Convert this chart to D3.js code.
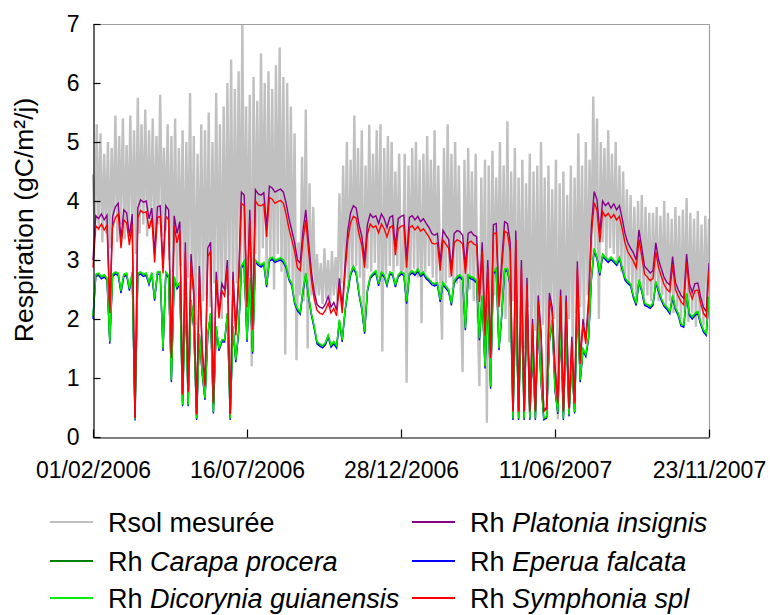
<!DOCTYPE html>
<html>
<head>
<meta charset="utf-8">
<script src="https://cdn.jsdelivr.net/npm/d3@7"></script>
<style>
  body { margin: 0; background: #fff; }
  svg { display: block; font-family: "Liberation Sans", Arial, sans-serif; }
</style>
</head>
<body>
<svg id="chart" width="770" height="615"></svg>
<script>
// Axis ticks
const xTickLabels = ["01/02/2006", "16/07/2006", "28/12/2006", "11/06/2007", "23/11/2007"];
const yTicks = [0, 1, 2, 3, 4, 5, 6, 7];

// Sampling of the series, in days from 01/02/2006
const rsolStepDays = 2;
const rhStepDays = 3;

// Measured soil respiration (gC/m2/j)
const rsolMesuree = [
  4.45,3.40,5.30,3.50,5.15,3.30,4.80,3.45,5.00,3.20,4.90,3.55,5.45,3.30,5.10,3.60,5.40,3.35,4.95,3.50,
  5.45,3.40,5.20,3.10,5.75,3.45,5.30,3.60,5.55,3.40,5.20,3.55,5.40,3.35,5.10,3.60,5.80,3.40,4.90,3.50,
  5.30,3.00,5.10,2.80,5.40,2.60,4.90,2.90,5.20,2.40,5.00,2.70,5.83,2.50,5.10,1.90,4.80,2.60,5.30,2.30,
  5.20,2.40,5.50,2.20,5.00,2.60,5.83,2.30,5.30,2.00,5.60,2.50,6.00,2.40,6.40,2.20,5.90,2.60,6.20,2.70,
  7.00,2.60,5.60,3.00,5.80,1.20,6.10,3.10,5.70,2.90,6.50,3.20,6.00,2.70,6.20,3.00,5.90,2.50,6.30,3.10,
  6.60,2.80,6.10,1.40,6.00,2.70,5.60,2.50,5.15,1.30,3.30,2.40,4.75,2.30,5.55,1.50,4.30,2.40,3.90,2.30,
  3.10,2.40,2.95,2.25,3.20,2.35,3.00,2.20,3.15,2.40,3.05,2.30,4.13,2.60,4.60,2.70,5.00,2.50,4.70,2.80,
  5.45,2.90,4.90,2.70,5.20,1.93,4.60,2.85,5.29,2.80,4.80,2.95,5.20,2.70,5.30,1.45,4.90,2.75,5.10,2.90,
  5.00,2.80,4.50,2.90,4.80,2.75,2.85,4.80,0.92,4.60,2.75,4.90,2.85,5.00,2.70,4.70,1.93,4.80,2.80,5.10,
  2.90,4.70,2.70,5.20,2.60,4.60,2.70,1.65,4.90,2.60,5.30,2.70,4.80,2.55,5.00,2.60,4.60,2.50,1.10,4.70,
  2.40,4.90,2.50,4.50,2.30,4.80,2.20,0.86,4.40,2.10,4.70,0.24,4.60,1.80,4.85,2.40,4.40,2.60,5.00,2.20,
  4.60,2.00,5.35,1.60,4.50,2.30,4.90,1.20,4.40,2.00,4.70,1.50,4.30,2.20,4.80,1.00,4.50,1.80,4.60,1.40,
  5.00,1.90,4.40,0.80,4.60,1.70,4.20,2.00,4.70,0.30,4.30,1.60,4.50,1.20,4.10,2.00,4.60,1.40,4.40,2.10,
  5.15,2.20,4.60,1.90,5.00,2.40,4.70,3.00,5.77,3.20,5.40,2.00,5.00,3.30,4.90,3.00,5.20,3.20,4.80,3.10,
  5.00,2.90,4.60,2.80,4.50,2.70,4.20,2.60,4.10,2.50,3.90,2.40,4.00,2.50,4.10,2.30,3.90,2.40,3.80,2.30,
  3.80,2.50,3.90,2.30,3.75,2.40,4.00,2.20,3.80,2.30,3.70,2.10,3.90,2.20,3.75,2.00,3.85,2.10,4.05,1.95,
  3.80,2.10,3.70,1.87,3.83,2.00,3.60,1.90,3.75,2.20,3.70
];

// Modelled heterotrophic respiration, one value every three days
const rhCarapa = [
  2.04,2.75,2.77,2.71,2.74,2.69,1.61,2.75,2.79,2.77,
  2.47,2.75,2.77,2.51,2.79,0.30,2.77,2.79,2.75,2.77,
  2.61,2.78,2.34,2.79,2.79,1.49,2.79,2.73,0.96,2.71,
  2.54,2.61,0.54,2.44,0.54,2.32,1.87,0.31,1.74,1.09,
  0.65,1.75,2.09,0.42,1.87,1.49,1.64,1.64,2.09,0.31,
  1.87,1.30,1.79,2.89,2.97,1.64,2.69,1.44,2.99,2.94,
  2.91,2.95,2.57,3.01,3.04,2.99,3.01,3.03,2.99,2.89,
  2.69,2.59,2.29,2.17,2.11,2.49,2.77,2.39,2.09,1.87,
  1.61,1.57,1.54,1.59,1.72,1.55,1.61,1.54,1.98,1.64,
  2.14,2.49,2.77,2.89,2.79,2.44,2.19,1.78,2.49,2.71,
  2.77,2.81,2.59,2.79,2.74,2.59,2.79,2.77,2.57,2.74,
  2.79,2.77,2.29,2.77,2.81,2.77,2.84,2.75,2.79,2.71,
  2.67,2.61,2.59,2.61,2.32,2.61,2.55,2.49,2.26,2.64,
  2.71,2.74,2.69,1.84,2.74,2.71,2.69,2.64,1.67,2.39,
  1.19,2.34,0.85,2.79,2.85,1.50,2.09,2.84,2.85,2.59,
  0.31,2.43,0.31,2.29,0.31,2.37,0.31,1.49,0.31,1.99,
  0.96,0.31,0.34,1.64,1.98,0.82,0.41,1.89,0.31,1.87,
  0.37,1.30,0.42,2.29,0.96,1.49,1.39,1.69,2.69,3.19,
  3.04,2.77,3.09,3.04,2.99,3.04,2.99,2.94,3.04,2.87,
  2.69,2.63,2.59,2.39,2.26,2.66,2.49,2.26,2.24,2.21,
  2.26,2.63,2.49,2.34,2.24,2.19,2.12,2.39,2.19,2.09,
  1.91,1.89,2.43,2.09,2.03,2.09,2.12,1.94,1.81,1.75,
  2.37
];

const rhDicorynia = [
  2.05,2.76,2.78,2.72,2.75,2.70,1.62,2.76,2.80,2.78,
  2.48,2.76,2.78,2.52,2.80,0.30,2.78,2.80,2.76,2.78,
  2.62,2.79,2.35,2.80,2.80,1.50,2.80,2.74,0.97,2.72,
  2.55,2.62,0.55,2.45,0.55,2.33,1.88,0.32,1.75,1.10,
  0.66,1.76,2.10,0.43,1.88,1.50,1.65,1.65,2.10,0.32,
  1.88,1.31,1.80,2.90,2.98,1.65,2.70,1.45,3.00,2.95,
  2.92,2.96,2.58,3.02,3.05,3.00,3.02,3.04,3.00,2.90,
  2.70,2.60,2.30,2.18,2.12,2.50,2.78,2.40,2.10,1.88,
  1.62,1.58,1.55,1.60,1.73,1.56,1.62,1.55,1.99,1.65,
  2.15,2.50,2.78,2.90,2.80,2.45,2.20,1.79,2.50,2.72,
  2.78,2.82,2.60,2.80,2.75,2.60,2.80,2.78,2.58,2.75,
  2.80,2.78,2.30,2.78,2.82,2.78,2.85,2.76,2.80,2.72,
  2.68,2.62,2.60,2.62,2.33,2.62,2.56,2.50,2.27,2.65,
  2.72,2.75,2.70,1.85,2.75,2.72,2.70,2.65,1.68,2.40,
  1.20,2.35,0.86,2.80,2.86,1.51,2.10,2.85,2.86,2.60,
  0.32,2.44,0.32,2.30,0.32,2.38,0.32,1.50,0.32,2.00,
  0.97,0.32,0.35,1.65,1.99,0.83,0.42,1.90,0.32,1.88,
  0.38,1.31,0.43,2.30,0.97,1.50,1.40,1.70,2.70,3.20,
  3.05,2.78,3.10,3.05,3.00,3.05,3.00,2.95,3.05,2.88,
  2.70,2.64,2.60,2.40,2.27,2.67,2.50,2.27,2.25,2.22,
  2.27,2.64,2.50,2.35,2.25,2.20,2.13,2.40,2.20,2.10,
  1.92,1.90,2.44,2.10,2.04,2.10,2.13,1.95,1.82,1.76,
  2.38
];

const rhPlatonia = [
  3.00,3.75,3.70,3.78,3.68,3.76,2.20,3.74,3.90,3.96,
  3.35,3.85,3.80,3.40,3.78,0.33,3.88,4.02,3.98,4.00,
  3.70,3.88,3.10,3.90,3.92,2.90,3.92,3.85,1.40,3.75,
  3.45,3.65,0.75,3.30,0.80,3.10,2.50,0.40,2.90,1.50,
  0.90,3.20,3.30,0.60,2.80,2.10,2.60,2.50,3.00,0.40,
  2.80,1.80,2.70,4.15,4.10,2.30,3.85,1.90,4.19,4.12,
  4.10,4.14,3.55,4.25,4.22,4.15,4.18,4.20,4.15,3.95,
  3.70,3.50,3.30,3.00,2.95,3.50,3.85,3.30,2.80,2.45,
  2.25,2.20,2.18,2.25,2.38,2.20,2.28,2.15,2.69,2.20,
  2.90,3.50,3.80,3.92,3.88,3.60,3.40,3.00,3.60,3.78,
  3.72,3.75,3.62,3.78,3.70,3.55,3.72,3.75,3.22,3.70,
  3.74,3.76,3.00,3.72,3.75,3.68,3.74,3.65,3.70,3.62,
  3.55,3.45,3.42,3.45,2.95,3.50,3.42,3.35,2.85,3.45,
  3.50,3.48,3.42,2.90,3.45,3.48,3.42,3.40,2.40,3.30,
  1.80,3.00,1.40,3.60,3.62,2.30,3.00,3.65,3.62,3.30,
  0.45,3.50,0.45,3.00,0.45,2.70,0.45,2.00,0.45,2.40,
  1.80,0.45,0.50,2.44,2.20,1.20,0.60,2.50,0.45,2.40,
  0.50,1.70,0.60,2.98,1.30,2.00,1.65,2.35,3.57,4.16,
  4.02,3.46,4.00,3.92,3.97,3.88,3.95,3.85,3.92,3.70,
  3.45,3.29,3.20,3.12,3.00,3.51,3.20,2.89,2.84,2.78,
  2.82,3.29,3.00,2.85,2.70,2.62,2.58,3.06,2.62,2.50,
  2.40,2.35,3.10,2.60,2.45,2.60,2.61,2.38,2.20,2.13,
  2.95
];

const rhEperua = [
  2.00,2.72,2.74,2.68,2.71,2.66,1.58,2.72,2.76,2.74,
  2.44,2.72,2.74,2.48,2.76,0.28,2.74,2.76,2.72,2.74,
  2.58,2.75,2.31,2.76,2.76,1.46,2.76,2.70,0.93,2.68,
  2.51,2.58,0.52,2.41,0.52,2.29,1.84,0.29,1.71,1.06,
  0.63,1.72,2.06,0.40,1.84,1.46,1.61,1.61,2.06,0.29,
  1.84,1.27,1.76,2.86,2.94,1.61,2.66,1.41,2.96,2.91,
  2.88,2.92,2.54,2.98,3.01,2.96,2.98,3.00,2.96,2.86,
  2.66,2.56,2.26,2.14,2.08,2.46,2.74,2.36,2.06,1.84,
  1.58,1.54,1.51,1.56,1.69,1.52,1.58,1.51,1.95,1.61,
  2.11,2.46,2.74,2.86,2.76,2.41,2.16,1.75,2.46,2.68,
  2.74,2.78,2.56,2.76,2.71,2.56,2.76,2.74,2.54,2.71,
  2.76,2.74,2.26,2.74,2.78,2.74,2.81,2.72,2.76,2.68,
  2.64,2.58,2.56,2.58,2.29,2.58,2.52,2.46,2.23,2.61,
  2.68,2.71,2.66,1.81,2.71,2.68,2.66,2.61,1.64,2.36,
  1.16,2.31,0.82,2.76,2.82,1.47,2.06,2.81,2.82,2.56,
  0.29,2.40,0.29,2.26,0.29,2.34,0.29,1.46,0.29,1.96,
  0.93,0.29,0.32,1.61,1.95,0.79,0.39,1.86,0.29,1.84,
  0.35,1.27,0.40,2.26,0.93,1.46,1.36,1.66,2.66,3.16,
  3.01,2.74,3.06,3.01,2.96,3.01,2.96,2.91,3.01,2.84,
  2.66,2.60,2.56,2.36,2.23,2.63,2.46,2.23,2.21,2.18,
  2.23,2.60,2.46,2.31,2.21,2.16,2.09,2.36,2.16,2.06,
  1.88,1.86,2.40,2.06,2.00,2.06,2.09,1.91,1.78,1.72,
  2.34
];

const rhSymphonia = [
  2.87,3.58,3.53,3.61,3.51,3.59,2.10,3.57,3.72,3.78,
  3.20,3.68,3.63,3.25,3.61,0.32,3.71,3.84,3.80,3.82,
  3.53,3.71,2.96,3.72,3.74,2.77,3.74,3.68,1.34,3.58,
  3.29,3.49,0.72,3.15,0.76,2.96,2.39,0.38,2.77,1.43,
  0.86,3.06,3.15,0.57,2.67,2.01,2.48,2.39,2.87,0.38,
  2.67,1.72,2.58,3.96,3.92,2.20,3.68,1.81,4.00,3.93,
  3.92,3.95,3.39,4.06,4.03,3.96,3.99,4.01,3.96,3.77,
  3.53,3.34,3.15,2.87,2.82,3.34,3.68,3.15,2.67,2.34,
  2.15,2.10,2.08,2.15,2.27,2.10,2.18,2.05,2.57,2.10,
  2.77,3.34,3.63,3.74,3.71,3.44,3.25,2.87,3.44,3.61,
  3.55,3.58,3.46,3.61,3.53,3.39,3.55,3.58,3.08,3.53,
  3.57,3.59,2.87,3.55,3.58,3.51,3.57,3.49,3.53,3.46,
  3.39,3.29,3.27,3.29,2.82,3.34,3.27,3.20,2.72,3.29,
  3.34,3.32,3.27,2.77,3.29,3.32,3.27,3.25,2.29,3.15,
  1.72,2.87,1.34,3.44,3.46,2.20,2.87,3.49,3.46,3.15,
  0.43,3.34,0.43,2.87,0.43,2.58,0.43,1.91,0.43,2.29,
  1.72,0.43,0.48,2.33,2.10,1.15,0.57,2.39,0.43,2.29,
  0.48,1.62,0.57,2.85,1.24,1.91,1.58,2.24,3.41,3.97,
  3.84,3.30,3.82,3.74,3.79,3.71,3.77,3.68,3.74,3.53,
  3.29,3.14,3.06,2.98,2.87,3.35,3.06,2.76,2.71,2.65,
  2.69,3.14,2.87,2.72,2.58,2.50,2.46,2.92,2.50,2.39,
  2.29,2.24,2.96,2.48,2.34,2.48,2.49,2.27,2.10,2.03,
  2.82
];

// Chart geometry
const W = 770, H = 615;
const plot = { left: 93, right: 709, top: 24, bottom: 437 };

const parseDay = d3.timeParse("%d/%m/%Y");
const formatDay = d3.timeFormat("%d/%m/%Y");
const tickDates = xTickLabels.map(parseDay);
const firstDay = tickDates[0];

const x = d3.scaleTime()
  .domain([firstDay, tickDates[tickDates.length - 1]])
  .range([plot.left, plot.right]);
const y = d3.scaleLinear().domain([0, 7]).range([plot.bottom, plot.top]);

const series = [
  { key: "rsol", prefix: "Rsol mesurée", species: "", values: rsolMesuree, step: rsolStepDays, color: "#c0c0c0", width: 2.4 },
  { key: "carapa", prefix: "Rh ", species: "Carapa procera", values: rhCarapa, step: rhStepDays, color: "#008000", width: 1.4 },
  { key: "dicorynia", prefix: "Rh ", species: "Dicorynia guianensis", values: rhDicorynia, step: rhStepDays, color: "#00f000", width: 1.4 },
  { key: "platonia", prefix: "Rh ", species: "Platonia insignis", values: rhPlatonia, step: rhStepDays, color: "#880088", width: 1.4 },
  { key: "eperua", prefix: "Rh ", species: "Eperua falcata", values: rhEperua, step: rhStepDays, color: "#0000ff", width: 1.4 },
  { key: "symphonia", prefix: "Rh ", species: "Symphonia spl", values: rhSymphonia, step: rhStepDays, color: "#ff0000", width: 1.4 }
];
const byKey = Object.fromEntries(series.map(s => [s.key, s]));

const svg = d3.select("#chart");
svg.append("rect").attr("width", W).attr("height", H).attr("fill", "#fff");

const line = d3.line()
  .x(d => x(d.date))
  .y(d => y(d.value));

function points(s) {
  return s.values.map((v, i) => ({ date: d3.timeDay.offset(firstDay, i * s.step), value: v }));
}

// Lines, back to front
const drawOrder = ["rsol", "eperua", "carapa", "dicorynia", "platonia", "symphonia"];
const gLines = svg.append("g");
drawOrder.forEach(k => {
  const s = byKey[k];
  gLines.append("path")
    .datum(points(s))
    .attr("fill", "none")
    .attr("stroke", s.color)
    .attr("stroke-width", s.width)
    .attr("stroke-linejoin", k === "rsol" ? "bevel" : "miter")
    .attr("d", line);
});

// Frame: top and right edges
svg.append("path")
  .attr("d", `M${plot.left},${plot.top + 0.5}H${plot.right + 0.5}V${plot.bottom}`)
  .attr("fill", "none")
  .attr("stroke", "#a0a0a0")
  .attr("stroke-width", 1.2);

// Y axis
const yAxis = d3.axisLeft(y)
  .tickValues(yTicks)
  .tickFormat(d3.format("d"))
  .tickSizeInner(-7)
  .tickSizeOuter(0)
  .tickPadding(14);
const gy = svg.append("g")
  .attr("transform", `translate(${plot.left + 0.5},0)`)
  .call(yAxis);
gy.attr("font-size", 23).attr("font-family", null);
gy.selectAll("line, path").attr("stroke", "#000").attr("stroke-width", 1.2);
gy.selectAll("text").attr("fill", "#000");

// X axis
const xAxis = d3.axisBottom(x)
  .tickValues(tickDates)
  .tickFormat(formatDay)
  .tickSizeInner(-8)
  .tickSizeOuter(0)
  .tickPadding(24);
const gx = svg.append("g")
  .attr("transform", `translate(0,${plot.bottom + 0.5})`)
  .call(xAxis);
gx.attr("font-size", 23).attr("font-family", null);
gx.selectAll("line, path").attr("stroke", "#000").attr("stroke-width", 1.2);
gx.selectAll("text").attr("fill", "#000");

// Y axis title
svg.append("text")
  .attr("transform", "translate(33,220) rotate(-90)")
  .attr("text-anchor", "middle")
  .attr("font-size", 26.5)
  .attr("fill", "#000")
  .text("Respiration (gC/m²/j)");

// Legend in two columns
const legendColumns = [["rsol", "carapa", "dicorynia"], ["platonia", "eperua", "symphonia"]];
const legendX = [50, 412];
const legendY = [522, 561, 598];
legendColumns.forEach((col, ci) => {
  col.forEach((k, ri) => {
    const s = byKey[k];
    const g = svg.append("g").attr("transform", `translate(${legendX[ci]},${legendY[ri]})`);
    g.append("line")
      .attr("x1", 0).attr("x2", 43)
      .attr("y1", 0).attr("y2", 0)
      .attr("stroke", s.color)
      .attr("stroke-width", 2);
    const t = g.append("text")
      .attr("x", 58)
      .attr("y", 9.5)
      .attr("font-size", 27)
      .attr("fill", "#000");
    t.append("tspan").text(s.prefix);
    if (s.species) t.append("tspan").attr("font-style", "italic").text(s.species);
  });
});
</script>
</body>
</html>
